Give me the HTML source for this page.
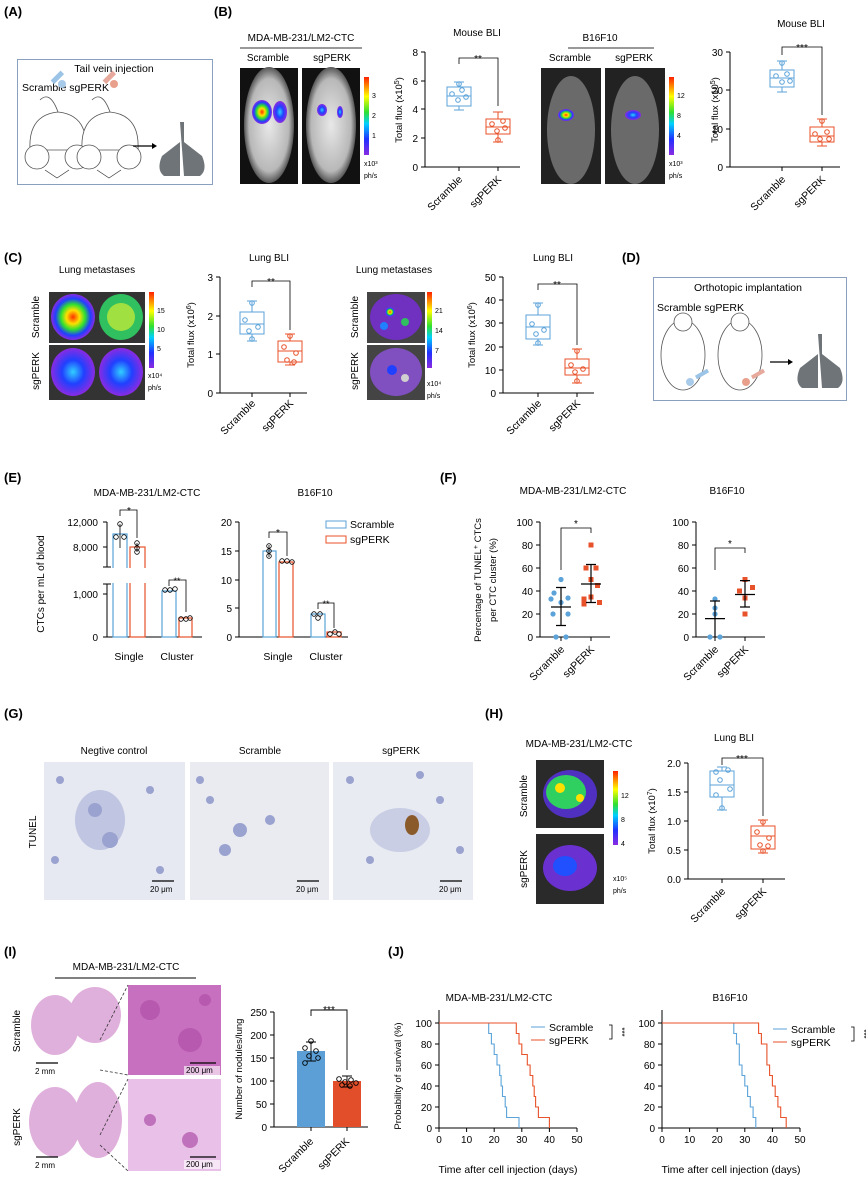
<!DOCTYPE html>
<html><head><meta charset="utf-8"><style>
html,body{margin:0;padding:0;background:#fff}
svg{display:block;font-family:"Liberation Sans",Arial,sans-serif}
</style></head><body>
<svg width="866" height="1187" viewBox="0 0 866 1187" xmlns="http://www.w3.org/2000/svg">
<defs>
<linearGradient id="cb" x1="0" y1="1" x2="0" y2="0">
<stop offset="0" stop-color="#8a2be2"/><stop offset="0.2" stop-color="#2030ff"/><stop offset="0.4" stop-color="#00d0ff"/><stop offset="0.55" stop-color="#30e030"/><stop offset="0.75" stop-color="#ffff00"/><stop offset="1" stop-color="#ff2000"/></linearGradient>
<radialGradient id="hot"><stop offset="0" stop-color="#ff3000"/><stop offset="0.3" stop-color="#ffe000"/><stop offset="0.55" stop-color="#30e030"/><stop offset="0.8" stop-color="#2040ff"/><stop offset="1" stop-color="#8a2be2"/></radialGradient>
<radialGradient id="cool"><stop offset="0" stop-color="#30d0ff"/><stop offset="0.5" stop-color="#2040ff"/><stop offset="1" stop-color="#8a2be2"/></radialGradient>
<radialGradient id="mouse"><stop offset="0" stop-color="#e8e8e8"/><stop offset="0.8" stop-color="#b8b8b8"/><stop offset="1" stop-color="#555"/></radialGradient>
</defs>
<g font-size="10" fill="#000">
<g font-size="13" font-weight="bold">
<text x="4" y="16">(A)</text><text x="214" y="16">(B)</text><text x="4" y="262">(C)</text><text x="622" y="262">(D)</text>
<text x="4" y="482">(E)</text><text x="440" y="482">(F)</text><text x="4" y="718">(G)</text><text x="485" y="718">(H)</text>
<text x="4" y="956">(I)</text><text x="388" y="956">(J)</text></g>

<!-- A -->
<rect x="17.5" y="59.5" width="195" height="125" fill="none" stroke="#8aa0bf" stroke-width="1"/>
<text x="114" y="72" text-anchor="middle" font-size="10.5">Tail vein injection</text>
<text x="22" y="91" font-size="10.5">Scramble sgPERK</text>
<g fill="#fff" stroke="#555" stroke-width="0.8">
<path d="M30 150 Q28 115 58 112 Q88 115 86 150 Z"/><path d="M82 150 Q80 115 110 112 Q140 115 138 150 Z"/>
<circle cx="37" cy="157" r="12"/><circle cx="77" cy="157" r="12"/><circle cx="89" cy="157" r="12"/><circle cx="129" cy="157" r="12"/>
<path d="M58 112 Q50 90 40 100 M110 112 Q102 90 92 100" fill="none"/></g>
<path d="M45 170 l12 8 l12 -8 M97 170 l12 8 l12 -8" stroke="#333" fill="none" stroke-width="0.7"/>
<rect x="50" y="75" width="14" height="5" fill="#9cc4e6" transform="rotate(-45 57 77)"/><circle cx="62" cy="84" r="4" fill="#a9cbea"/>
<rect x="102" y="75" width="14" height="5" fill="#e6a99c" transform="rotate(-45 109 77)"/><circle cx="114" cy="84" r="4" fill="#e8a08c"/>
<path d="M133 146 H152" stroke="#000" stroke-width="1.2"/><path d="M152 143 l5 3 l-5 3z"/>
<path d="M180 122 h4 v20 l18 14 q6 14 -2 20 h-16 z M180 142 l-18 14 q-6 14 2 20 h16 z" fill="#6e7478"/>

<!-- B images -->
<text x="301" y="41" text-anchor="middle">MDA-MB-231/LM2-CTC</text>
<line x1="240" y1="48" x2="362" y2="48" stroke="#333"/>
<text x="268" y="61" text-anchor="middle">Scramble</text><text x="332" y="61" text-anchor="middle">sgPERK</text>
<rect x="240" y="68" width="58" height="116" fill="#111"/><rect x="302" y="68" width="58" height="116" fill="#111"/>
<ellipse cx="269" cy="125" rx="25" ry="58" fill="url(#mouse)"/><ellipse cx="331" cy="125" rx="25" ry="58" fill="url(#mouse)"/>
<ellipse cx="262" cy="112" rx="10" ry="12" fill="url(#hot)"/><ellipse cx="280" cy="112" rx="7" ry="11" fill="url(#cool)"/>
<ellipse cx="322" cy="110" rx="5" ry="6" fill="url(#cool)"/><ellipse cx="340" cy="112" rx="3" ry="6" fill="url(#cool)"/>
<rect x="364" y="77" width="5" height="78" fill="url(#cb)"/>
<g font-size="7"><text x="372" y="98">3</text><text x="372" y="118">2</text><text x="372" y="138">1</text><text x="364" y="166">x10³</text><text x="364" y="178">ph/s</text></g>

<text x="600" y="41" text-anchor="middle">B16F10</text>
<line x1="568" y1="48" x2="654" y2="48" stroke="#333"/>
<text x="570" y="61" text-anchor="middle">Scramble</text><text x="634" y="61" text-anchor="middle">sgPERK</text>
<rect x="541" y="68" width="60" height="116" fill="#222"/><rect x="605" y="68" width="60" height="116" fill="#222"/>
<ellipse cx="571" cy="130" rx="24" ry="54" fill="#6a6a6a"/><ellipse cx="635" cy="130" rx="24" ry="54" fill="#6a6a6a"/>
<ellipse cx="566" cy="115" rx="8" ry="6" fill="url(#hot)"/><ellipse cx="633" cy="115" rx="8" ry="5" fill="url(#cool)"/>
<rect x="669" y="77" width="5" height="78" fill="url(#cb)"/>
<g font-size="7"><text x="677" y="98">12</text><text x="677" y="118">8</text><text x="677" y="138">4</text><text x="669" y="166">x10³</text><text x="669" y="178">ph/s</text></g>

<!-- B plot1 -->
<text x="477" y="36" text-anchor="middle">Mouse BLI</text>
<g stroke="#000" stroke-width="1" fill="none"><path d="M425 52 V167 H520"/><path d="M421 52 h4 M421 81 h4 M421 109 h4 M421 138 h4 M421 167 h4 M459 167 v4 M498 167 v4"/></g>
<g text-anchor="end"><text x="418" y="56">8</text><text x="418" y="85">6</text><text x="418" y="113">4</text><text x="418" y="142">2</text><text x="418" y="171">0</text></g>
<text transform="translate(402 110) rotate(-90)" text-anchor="middle" font-size="9.5">Total flux (x10<tspan dy="-3" font-size="7">5</tspan><tspan dy="3">)</tspan></text>
<g stroke="#5ba3d9" fill="none"><path d="M459 82 V110 M454 82 h10 M454 110 h10"/><rect x="447" y="87" width="24" height="19" fill="#fff"/><path d="M447 96 h24"/><circle cx="452" cy="94" r="2.3"/><circle cx="462" cy="90" r="2.3"/><circle cx="458" cy="100" r="2.3"/><circle cx="466" cy="97" r="2.3"/><circle cx="459" cy="84" r="2.3"/></g>
<g stroke="#e8522a" fill="none"><path d="M498 112 V142 M493 112 h10 M493 142 h10"/><rect x="486" y="119" width="24" height="15" fill="#fff"/><path d="M486 127 h24"/><circle cx="492" cy="124" r="2.3"/><circle cx="503" cy="121" r="2.3"/><circle cx="497" cy="131" r="2.3"/><circle cx="505" cy="128" r="2.3"/><circle cx="498" cy="140" r="2.3"/></g>
<path d="M459 64 V58 H498 V106" stroke="#000" fill="none" stroke-width="0.8"/><text x="478" y="62" text-anchor="middle">**</text>
<text transform="translate(463 180) rotate(-45)" text-anchor="end" font-size="10.5">Scramble</text>
<text transform="translate(502 180) rotate(-45)" text-anchor="end" font-size="10.5">sgPERK</text>

<!-- B plot2 -->
<text x="801" y="27" text-anchor="middle">Mouse BLI</text>
<g stroke="#000" fill="none"><path d="M730 52 V167 H840"/><path d="M726 52 h4 M726 90 h4 M726 129 h4 M726 167 h4 M782 167 v4 M822 167 v4"/></g>
<g text-anchor="end"><text x="723" y="56">30</text><text x="723" y="94">20</text><text x="723" y="133">10</text><text x="723" y="171">0</text></g>
<text transform="translate(718 110) rotate(-90)" text-anchor="middle" font-size="9.5">Total flux (x10<tspan dy="-3" font-size="7">5</tspan><tspan dy="3">)</tspan></text>
<g stroke="#5ba3d9" fill="none"><path d="M782 61 V92 M777 61 h10 M777 92 h10"/><rect x="770" y="70" width="24" height="17" fill="#fff"/><path d="M770 78 h24"/><circle cx="776" cy="76" r="2.3"/><circle cx="787" cy="74" r="2.3"/><circle cx="782" cy="82" r="2.3"/><circle cx="790" cy="81" r="2.3"/><circle cx="782" cy="63" r="2.3"/></g>
<g stroke="#e8522a" fill="none"><path d="M822 119 V146 M817 119 h10 M817 146 h10"/><rect x="810" y="127" width="24" height="15" fill="#fff"/><path d="M810 136 h24"/><circle cx="815" cy="134" r="2.3"/><circle cx="827" cy="132" r="2.3"/><circle cx="820" cy="139" r="2.3"/><circle cx="829" cy="139" r="2.3"/><circle cx="822" cy="121" r="2.3"/></g>
<path d="M782 55 V47 H822 V115" stroke="#000" fill="none" stroke-width="0.8"/><text x="802" y="51" text-anchor="middle">***</text>
<text transform="translate(786 180) rotate(-45)" text-anchor="end" font-size="10.5">Scramble</text>
<text transform="translate(826 180) rotate(-45)" text-anchor="end" font-size="10.5">sgPERK</text>

<!-- C images -->
<text x="97" y="273" text-anchor="middle">Lung metastases</text>
<rect x="49" y="292" width="96" height="51" fill="#333"/><rect x="49" y="345" width="96" height="55" fill="#333"/>
<ellipse cx="73" cy="317" rx="22" ry="23" fill="url(#hot)"/><ellipse cx="121" cy="317" rx="22" ry="23" fill="#30c060"/><ellipse cx="121" cy="317" rx="14" ry="14" fill="#a0e040"/>
<ellipse cx="73" cy="372" rx="22" ry="24" fill="url(#cool)"/><ellipse cx="121" cy="372" rx="22" ry="24" fill="url(#cool)"/>
<text transform="translate(39 317) rotate(-90)" text-anchor="middle">Scramble</text><text transform="translate(39 371) rotate(-90)" text-anchor="middle">sgPERK</text>
<rect x="149" y="292" width="5" height="76" fill="url(#cb)"/>
<g font-size="7"><text x="157" y="313">15</text><text x="157" y="332">10</text><text x="157" y="351">5</text><text x="148" y="378">x10⁴</text><text x="148" y="390">ph/s</text></g>

<text x="394" y="273" text-anchor="middle">Lung metastases</text>
<rect x="367" y="292" width="58" height="51" fill="#444"/><rect x="367" y="345" width="58" height="55" fill="#444"/>
<ellipse cx="396" cy="317" rx="26" ry="23" fill="#7030c0"/><circle cx="390" cy="312" r="5" fill="url(#hot)"/><circle cx="405" cy="322" r="4" fill="#30c060"/><circle cx="384" cy="326" r="4" fill="#2080ff"/>
<ellipse cx="396" cy="372" rx="26" ry="24" fill="#8050c0"/><circle cx="392" cy="370" r="5" fill="#2040ff"/><circle cx="405" cy="378" r="4" fill="#d0d0d0"/>
<text transform="translate(358 317) rotate(-90)" text-anchor="middle">Scramble</text><text transform="translate(358 371) rotate(-90)" text-anchor="middle">sgPERK</text>
<rect x="427" y="292" width="5" height="76" fill="url(#cb)"/>
<g font-size="7"><text x="435" y="313">21</text><text x="435" y="333">14</text><text x="435" y="353">7</text><text x="427" y="386">x10⁴</text><text x="427" y="398">ph/s</text></g>

<!-- C plot1 -->
<text x="269" y="261" text-anchor="middle">Lung BLI</text>
<g stroke="#000" fill="none"><path d="M220 277 V393 H307"/><path d="M216 277 h4 M216 316 h4 M216 354 h4 M216 393 h4 M252 393 v4 M290 393 v4"/></g>
<g text-anchor="end"><text x="213" y="281">3</text><text x="213" y="320">2</text><text x="213" y="358">1</text><text x="213" y="397">0</text></g>
<text transform="translate(194 335) rotate(-90)" text-anchor="middle" font-size="9.5">Total flux (x10<tspan dy="-3" font-size="7">6</tspan><tspan dy="3">)</tspan></text>
<g stroke="#5ba3d9" fill="none"><path d="M252 301 V341 M247 301 h10 M247 341 h10"/><rect x="240" y="312" width="24" height="22" fill="#fff"/><path d="M240 324 h24"/><circle cx="252" cy="303" r="2.3"/><circle cx="245" cy="320" r="2.3"/><circle cx="258" cy="327" r="2.3"/><circle cx="249" cy="331" r="2.3"/><circle cx="252" cy="339" r="2.3"/></g>
<g stroke="#e8522a" fill="none"><path d="M290 334 V365 M285 334 h10 M285 365 h10"/><rect x="278" y="341" width="24" height="21" fill="#fff"/><path d="M278 351 h24"/><circle cx="290" cy="336" r="2.3"/><circle cx="284" cy="347" r="2.3"/><circle cx="296" cy="353" r="2.3"/><circle cx="287" cy="360" r="2.3"/><circle cx="294" cy="362" r="2.3"/></g>
<path d="M252 287 V281 H290 V330" stroke="#000" fill="none" stroke-width="0.8"/><text x="271" y="285" text-anchor="middle">**</text>
<text transform="translate(256 404) rotate(-45)" text-anchor="end" font-size="10.5">Scramble</text>
<text transform="translate(294 404) rotate(-45)" text-anchor="end" font-size="10.5">sgPERK</text>

<!-- C plot2 -->
<text x="553" y="261" text-anchor="middle">Lung BLI</text>
<g stroke="#000" fill="none"><path d="M503 277 V393 H594"/><path d="M499 277 h4 M499 300 h4 M499 323 h4 M499 347 h4 M499 370 h4 M499 393 h4 M538 393 v4 M577 393 v4"/></g>
<g text-anchor="end"><text x="496" y="281">50</text><text x="496" y="304">40</text><text x="496" y="327">30</text><text x="496" y="351">20</text><text x="496" y="374">10</text><text x="496" y="397">0</text></g>
<text transform="translate(475 335) rotate(-90)" text-anchor="middle" font-size="9.5">Total flux (x10<tspan dy="-3" font-size="7">6</tspan><tspan dy="3">)</tspan></text>
<g stroke="#5ba3d9" fill="none"><path d="M538 303 V345 M533 303 h10 M533 345 h10"/><rect x="526" y="315" width="24" height="24" fill="#fff"/><path d="M526 327 h24"/><circle cx="538" cy="305" r="2.3"/><circle cx="532" cy="324" r="2.3"/><circle cx="544" cy="330" r="2.3"/><circle cx="536" cy="334" r="2.3"/><circle cx="538" cy="343" r="2.3"/></g>
<g stroke="#e8522a" fill="none"><path d="M577 349 V383 M572 349 h10 M572 383 h10"/><rect x="565" y="359" width="24" height="16" fill="#fff"/><path d="M565 368 h24"/><circle cx="577" cy="351" r="2.3"/><circle cx="571" cy="365" r="2.3"/><circle cx="583" cy="369" r="2.3"/><circle cx="575" cy="372" r="2.3"/><circle cx="577" cy="381" r="2.3"/></g>
<path d="M538 290 V284 H577 V345" stroke="#000" fill="none" stroke-width="0.8"/><text x="557" y="288" text-anchor="middle">**</text>
<text transform="translate(542 404) rotate(-45)" text-anchor="end" font-size="10.5">Scramble</text>
<text transform="translate(581 404) rotate(-45)" text-anchor="end" font-size="10.5">sgPERK</text>

<!-- D -->
<rect x="653.5" y="277.5" width="193" height="123" fill="none" stroke="#8aa0bf"/>
<text x="748" y="291" text-anchor="middle" font-size="10.5">Orthotopic implantation</text>
<text x="657" y="311" font-size="10.5">Scramble  sgPERK</text>
<g fill="#fff" stroke="#555" stroke-width="0.8"><ellipse cx="683" cy="355" rx="22" ry="35"/><ellipse cx="740" cy="355" rx="22" ry="35"/><circle cx="683" cy="322" r="9"/><circle cx="740" cy="322" r="9"/></g>
<circle cx="690" cy="382" r="4" fill="#a9cbea"/><circle cx="746" cy="382" r="4" fill="#e8a08c"/>
<rect x="695" y="372" width="14" height="4" fill="#9cc4e6" transform="rotate(-30 702 374)"/><rect x="751" y="372" width="14" height="4" fill="#e6a99c" transform="rotate(-30 758 374)"/>
<path d="M770 362 H788" stroke="#000" stroke-width="1.2"/><path d="M788 359 l5 3 l-5 3z"/>
<path d="M818 334 h4 v20 l18 14 q6 14 -2 20 h-16 z M818 354 l-18 14 q-6 14 2 20 h16 z" fill="#6e7478"/>

<!-- E -->
<text x="147" y="496" text-anchor="middle">MDA-MB-231/LM2-CTC</text><text x="315" y="496" text-anchor="middle">B16F10</text>
<text transform="translate(44 584) rotate(-90)" text-anchor="middle">CTCs per mL of blood</text>
<g stroke="#000" fill="none"><path d="M107 522 V567 M107 584 V637 H202 M103 567 h8 M103 584 h8"/><path d="M103 522 h4 M103 547 h4 M103 594 h4 M103 637 h4"/></g>
<g text-anchor="end"><text x="98" y="526">12,000</text><text x="98" y="551">8,000</text><text x="98" y="598">1,000</text><text x="98" y="641">0</text></g>
<g fill="none" stroke-width="1.2"><rect x="113" y="534" width="14" height="103" stroke="#5ba3d9"/><rect x="130" y="547" width="15" height="90" stroke="#e8522a"/><rect x="162" y="591" width="14" height="46" stroke="#5ba3d9"/><rect x="179" y="618" width="13" height="19" stroke="#e8522a"/></g>
<rect x="107" y="568" width="100" height="15" fill="#fff"/>
<g stroke="#000" fill="none" stroke-width="0.8"><path d="M120 524 V548 M137 543 V552"/><circle cx="120" cy="524" r="2.3"/><circle cx="116" cy="537" r="2.3"/><circle cx="124" cy="537" r="2.3"/><circle cx="137" cy="543" r="2.3"/><circle cx="137" cy="548" r="2.3"/><circle cx="137" cy="552" r="2.3"/><circle cx="165" cy="590" r="2.3"/><circle cx="170" cy="590" r="2.3"/><circle cx="175" cy="589" r="2.3"/><circle cx="181" cy="619" r="2.3"/><circle cx="186" cy="619" r="2.3"/><circle cx="190" cy="618" r="2.3"/>
<path d="M120 516 V510 H137 V538 M169 586 V580 H186 V612"/></g>
<text x="129" y="514" text-anchor="middle">*</text><text x="177" y="584" text-anchor="middle" font-size="9">**</text>
<text x="129" y="660" text-anchor="middle" font-size="10.5">Single</text><text x="177" y="660" text-anchor="middle" font-size="10.5">Cluster</text>

<g stroke="#000" fill="none"><path d="M239 522 V637 H348"/><path d="M235 522 h4 M235 551 h4 M235 580 h4 M235 608 h4 M235 637 h4"/></g>
<g text-anchor="end"><text x="232" y="526">20</text><text x="232" y="555">15</text><text x="232" y="584">10</text><text x="232" y="612">5</text><text x="232" y="641">0</text></g>
<g fill="none" stroke-width="1.2"><rect x="263" y="551" width="13" height="86" stroke="#5ba3d9"/><rect x="279" y="562" width="14" height="75" stroke="#e8522a"/><rect x="311" y="614" width="14" height="23" stroke="#5ba3d9"/><rect x="327" y="632" width="14" height="5" stroke="#e8522a"/></g>
<g stroke="#000" fill="none" stroke-width="0.8"><path d="M269 545 V557"/><circle cx="269" cy="546" r="2.3"/><circle cx="269" cy="551" r="2.3"/><circle cx="269" cy="556" r="2.3"/><circle cx="282" cy="561" r="2.3"/><circle cx="287" cy="561" r="2.3"/><circle cx="292" cy="562" r="2.3"/><circle cx="314" cy="614" r="2.3"/><circle cx="320" cy="614" r="2.3"/><circle cx="318" cy="618" r="2.3"/><circle cx="330" cy="634" r="2.3"/><circle cx="335" cy="632" r="2.3"/><circle cx="339" cy="634" r="2.3"/>
<path d="M269 538 V532 H287 V556 M318 609 V603 H334 V628"/></g>
<text x="278" y="536" text-anchor="middle">*</text><text x="326" y="607" text-anchor="middle" font-size="9">**</text>
<text x="278" y="660" text-anchor="middle" font-size="10.5">Single</text><text x="326" y="660" text-anchor="middle" font-size="10.5">Cluster</text>
<rect x="326" y="521" width="20" height="7" fill="none" stroke="#5ba3d9"/><text x="350" y="528" font-size="10.5">Scramble</text>
<rect x="326" y="536" width="20" height="7" fill="none" stroke="#e8522a"/><text x="350" y="543" font-size="10.5">sgPERK</text>

<!-- F -->
<text x="573" y="494" text-anchor="middle">MDA-MB-231/LM2-CTC</text><text x="727" y="494" text-anchor="middle">B16F10</text>
<text transform="translate(481 580) rotate(-90)" text-anchor="middle" font-size="9.5">Percentage of TUNEL<tspan dy="-3" font-size="7">+</tspan><tspan dy="3"> CTCs</tspan></text>
<text transform="translate(496 580) rotate(-90)" text-anchor="middle" font-size="9.5">per CTC cluster (%)</text>
<g stroke="#000" fill="none"><path d="M540 522 V637 H610"/><path d="M536 522 h4 M536 545 h4 M536 568 h4 M536 591 h4 M536 614 h4 M536 637 h4 M561 637 v4 M591 637 v4"/>
<path d="M696 522 V637 H765"/><path d="M692 522 h4 M692 545 h4 M692 568 h4 M692 591 h4 M692 614 h4 M692 637 h4 M715 637 v4 M745 637 v4"/></g>
<g text-anchor="end"><text x="533" y="526">100</text><text x="533" y="549">80</text><text x="533" y="572">60</text><text x="533" y="595">40</text><text x="533" y="618">20</text><text x="533" y="641">0</text>
<text x="689" y="526">100</text><text x="689" y="549">80</text><text x="689" y="572">60</text><text x="689" y="595">40</text><text x="689" y="618">20</text><text x="689" y="641">0</text></g>
<g fill="#5ba3d9"><circle cx="561" cy="579.5" r="2.6"/><circle cx="554" cy="593" r="2.6"/><circle cx="568" cy="598" r="2.6"/><circle cx="551" cy="599" r="2.6"/><circle cx="561" cy="602.5" r="2.6"/><circle cx="553" cy="614" r="2.6"/><circle cx="568" cy="614" r="2.6"/><circle cx="556" cy="637" r="2.6"/><circle cx="566" cy="637" r="2.6"/>
<circle cx="715" cy="599" r="2.6"/><circle cx="715" cy="608" r="2.6"/><circle cx="715" cy="614" r="2.6"/><circle cx="710" cy="637" r="2.6"/><circle cx="720" cy="637" r="2.6"/></g>
<g fill="#e8522a"><rect x="588.5" y="542.5" width="5" height="5"/><rect x="583.5" y="565.5" width="5" height="5"/><rect x="593.5" y="565.5" width="5" height="5"/><rect x="588.5" y="577" width="5" height="5"/><rect x="595" y="583" width="5" height="5"/><rect x="588.5" y="594.5" width="5" height="5"/><rect x="581.5" y="596.5" width="5" height="5"/><rect x="597" y="600" width="5" height="5"/><rect x="581.5" y="601.5" width="5" height="5"/>
<rect x="742.5" y="577" width="5" height="5"/><rect x="750" y="585" width="5" height="5"/><rect x="737" y="588.5" width="5" height="5"/><rect x="742.5" y="595.5" width="5" height="5"/><rect x="742.5" y="611.5" width="5" height="5"/></g>
<g stroke="#000" stroke-width="1.2" fill="none"><path d="M561 587.5 V625.5 M556 587.5 h10 M556 625.5 h10 M551 607 h20"/><path d="M591 564.5 V602.5 M586 564.5 h10 M586 602.5 h10 M581 584 h20"/>
<path d="M715 601 V637 M710 601 h10 M705 618.6 h20"/><path d="M745 580.6 V607 M740 580.6 h10 M740 607 h10 M735 594.5 h20"/></g>
<path d="M561 570 V528 H591 V533 M715 570 V548 H745 V553" stroke="#000" fill="none" stroke-width="0.8"/>
<text x="576" y="527" text-anchor="middle">*</text><text x="730" y="547" text-anchor="middle">*</text>
<text transform="translate(565 650) rotate(-45)" text-anchor="end" font-size="10.5">Scramble</text>
<text transform="translate(595 650) rotate(-45)" text-anchor="end" font-size="10.5">sgPERK</text>
<text transform="translate(719 650) rotate(-45)" text-anchor="end" font-size="10.5">Scramble</text>
<text transform="translate(749 650) rotate(-45)" text-anchor="end" font-size="10.5">sgPERK</text>

<!-- G -->
<text x="114" y="754" text-anchor="middle">Negtive control</text><text x="260" y="754" text-anchor="middle">Scramble</text><text x="401" y="754" text-anchor="middle">sgPERK</text>
<text transform="translate(36 832) rotate(-90)" text-anchor="middle">TUNEL</text>
<rect x="44" y="762" width="141" height="138" fill="#e6e9f2"/><rect x="190" y="762" width="139" height="138" fill="#e9ebf1"/><rect x="333" y="762" width="140" height="138" fill="#e8ebf2"/>
<g fill="#9aa2cf"><ellipse cx="100" cy="820" rx="25" ry="30" opacity="0.5"/><circle cx="95" cy="810" r="7"/><circle cx="110" cy="840" r="8"/><circle cx="60" cy="780" r="4"/><circle cx="55" cy="860" r="4"/><circle cx="150" cy="790" r="4"/><circle cx="160" cy="870" r="4"/>
<circle cx="240" cy="830" r="7"/><circle cx="225" cy="850" r="6"/><circle cx="200" cy="780" r="4"/><circle cx="210" cy="800" r="4"/><circle cx="270" cy="820" r="5"/>
<ellipse cx="400" cy="830" rx="30" ry="22" opacity="0.4"/><circle cx="350" cy="780" r="4"/><circle cx="370" cy="860" r="4"/><circle cx="440" cy="800" r="4"/><circle cx="460" cy="850" r="4"/><circle cx="420" cy="775" r="4"/></g>
<ellipse cx="412" cy="825" rx="7" ry="10" fill="#8b5a2b"/>
<g font-size="8"><path d="M152 881 h22 M297 881 h22 M440 881 h22" stroke="#000" stroke-width="1.2"/><text x="150" y="892">20 μm</text><text x="296" y="892">20 μm</text><text x="439" y="892">20 μm</text></g>

<!-- H -->
<text x="579" y="747" text-anchor="middle">MDA-MB-231/LM2-CTC</text>
<rect x="536" y="760" width="68" height="68" fill="#2a2a2a"/><rect x="536" y="834" width="68" height="70" fill="#2a2a2a"/>
<ellipse cx="570" cy="794" rx="27" ry="24" fill="#5030c0"/><ellipse cx="566" cy="792" rx="20" ry="17" fill="#30d060"/><circle cx="560" cy="788" r="5" fill="#ffe000"/><circle cx="580" cy="798" r="4" fill="#ffe000"/>
<ellipse cx="570" cy="868" rx="27" ry="23" fill="#6a30d0"/><ellipse cx="565" cy="866" rx="12" ry="10" fill="#2050ff"/>
<text transform="translate(527 796) rotate(-90)" text-anchor="middle">Scramble</text><text transform="translate(527 869) rotate(-90)" text-anchor="middle">sgPERK</text>
<rect x="613" y="771" width="5" height="74" fill="url(#cb)"/>
<g font-size="7"><text x="621" y="798">12</text><text x="621" y="822">8</text><text x="621" y="846">4</text><text x="613" y="881">x10⁵</text><text x="613" y="893">ph/s</text></g>
<text x="734" y="741" text-anchor="middle">Lung BLI</text>
<g stroke="#000" fill="none"><path d="M688 763 V879 H785"/><path d="M684 763 h4 M684 792 h4 M684 821 h4 M684 850 h4 M684 879 h4 M722 879 v4 M763 879 v4"/></g>
<g text-anchor="end"><text x="681" y="767">2.0</text><text x="681" y="796">1.5</text><text x="681" y="825">1.0</text><text x="681" y="854">0.5</text><text x="681" y="883">0.0</text></g>
<text transform="translate(655 821) rotate(-90)" text-anchor="middle" font-size="9.5">Total flux (x10<tspan dy="-3" font-size="7">7</tspan><tspan dy="3">)</tspan></text>
<g stroke="#5ba3d9" fill="none"><path d="M722 767 V810 M717 767 h10 M717 810 h10"/><rect x="710" y="771" width="24" height="26" fill="#fff"/><path d="M710 785 h24"/><circle cx="716" cy="772" r="2.3"/><circle cx="728" cy="770" r="2.3"/><circle cx="720" cy="780" r="2.3"/><circle cx="730" cy="789" r="2.3"/><circle cx="716" cy="795" r="2.3"/><circle cx="722" cy="808" r="2.3"/></g>
<g stroke="#e8522a" fill="none"><path d="M763 820 V853 M758 820 h10 M758 853 h10"/><rect x="751" y="826" width="24" height="23" fill="#fff"/><path d="M751 836 h24"/><circle cx="763" cy="822" r="2.3"/><circle cx="757" cy="832" r="2.3"/><circle cx="769" cy="838" r="2.3"/><circle cx="760" cy="845" r="2.3"/><circle cx="768" cy="846" r="2.3"/><circle cx="763" cy="851" r="2.3"/></g>
<path d="M722 765 V758 H763 V816" stroke="#000" fill="none" stroke-width="0.8"/><text x="742" y="762" text-anchor="middle">***</text>
<text transform="translate(726 892) rotate(-45)" text-anchor="end" font-size="10.5">Scramble</text>
<text transform="translate(767 892) rotate(-45)" text-anchor="end" font-size="10.5">sgPERK</text>

<!-- I -->
<text x="126" y="970" text-anchor="middle">MDA-MB-231/LM2-CTC</text><line x1="55" y1="978" x2="196" y2="978" stroke="#000"/>
<text transform="translate(20 1031) rotate(-90)" text-anchor="middle">Scramble</text><text transform="translate(20 1127) rotate(-90)" text-anchor="middle">sgPERK</text>
<g fill="#e0b0dc"><ellipse cx="55" cy="1025" rx="24" ry="30"/><ellipse cx="95" cy="1015" rx="26" ry="28"/><ellipse cx="55" cy="1122" rx="26" ry="35"/><ellipse cx="98" cy="1120" rx="24" ry="38"/></g>
<rect x="128" y="985" width="93" height="90" fill="#c870c0"/><rect x="128" y="1079" width="93" height="92" fill="#e8c0e8"/>
<g fill="#b050a8" opacity="0.7"><circle cx="150" cy="1010" r="10"/><circle cx="190" cy="1040" r="12"/><circle cx="205" cy="1000" r="6"/><circle cx="150" cy="1120" r="6"/><circle cx="190" cy="1140" r="8"/></g>
<path d="M100 1040 L128 985 M100 1070 L128 1075 M100 1135 L128 1079 M100 1145 L128 1171" stroke="#333" stroke-dasharray="3 2" fill="none" stroke-width="0.8"/>
<g font-size="8"><path d="M36 1063 h22 M36 1157 h22 M190 1063 h26 M190 1157 h26" stroke="#000" stroke-width="1.2"/><text x="35" y="1074">2 mm</text><text x="35" y="1168">2 mm</text>
<rect x="184" y="1066" width="36" height="9" fill="#fff" opacity="0.6"/><rect x="184" y="1160" width="36" height="9" fill="#fff" opacity="0.6"/><text x="186" y="1073">200 μm</text><text x="186" y="1167">200 μm</text></g>
<g stroke="#000" fill="none"><path d="M274 1012 V1127 H368"/><path d="M270 1012 h4 M270 1035 h4 M270 1058 h4 M270 1081 h4 M270 1104 h4 M270 1127 h4 M311 1127 v4 M347 1127 v4"/></g>
<g text-anchor="end"><text x="267" y="1016">250</text><text x="267" y="1039">200</text><text x="267" y="1062">150</text><text x="267" y="1085">100</text><text x="267" y="1108">50</text><text x="267" y="1131">0</text></g>
<text transform="translate(242 1069) rotate(-90)" text-anchor="middle" font-size="9.5">Number of nodules/lung</text>
<rect x="297" y="1051" width="28" height="76" fill="#5b9fd6"/><rect x="333" y="1081" width="28" height="46" fill="#e24e2a"/>
<g stroke="#000" fill="none" stroke-width="0.9"><path d="M311 1042 V1061 M306 1042 h10 M306 1061 h10 M347 1076 V1087 M342 1076 h10 M342 1087 h10"/><circle cx="311" cy="1041" r="2.3"/><circle cx="305" cy="1048" r="2.3"/><circle cx="316" cy="1051" r="2.3"/><circle cx="309" cy="1056" r="2.3"/><circle cx="318" cy="1058" r="2.3"/><circle cx="305" cy="1063" r="2.3"/><circle cx="339" cy="1079" r="2.3"/><circle cx="345" cy="1082" r="2.3"/><circle cx="351" cy="1080" r="2.3"/><circle cx="356" cy="1083" r="2.3"/><circle cx="342" cy="1085" r="2.3"/><circle cx="350" cy="1086" r="2.3"/>
<path d="M311 1016 V1010 H347 V1070"/></g>
<text x="329" y="1013" text-anchor="middle">***</text>
<text transform="translate(314 1142) rotate(-45)" text-anchor="end" font-size="10.5">Scramble</text>
<text transform="translate(350 1142) rotate(-45)" text-anchor="end" font-size="10.5">sgPERK</text>

<!-- J -->
<text x="499" y="1001" text-anchor="middle">MDA-MB-231/LM2-CTC</text><text x="730" y="1001" text-anchor="middle">B16F10</text>
<text transform="translate(401 1076) rotate(-90)" text-anchor="middle" font-size="9.5">Probability of survival (%)</text>
<g stroke="#000" fill="none"><path d="M439 1010 V1128 H577"/><path d="M435 1023 h4 M435 1044 h4 M435 1065 h4 M435 1086 h4 M435 1107 h4 M435 1128 h4 M439 1128 v4 M466.6 1128 v4 M494.2 1128 v4 M521.8 1128 v4 M549.4 1128 v4 M577 1128 v4"/>
<path d="M662 1010 V1128 H800"/><path d="M658 1023 h4 M658 1044 h4 M658 1065 h4 M658 1086 h4 M658 1107 h4 M658 1128 h4 M662 1128 v4 M689.6 1128 v4 M717.2 1128 v4 M744.8 1128 v4 M772.4 1128 v4 M800 1128 v4"/></g>
<g text-anchor="end"><text x="432" y="1027">100</text><text x="432" y="1048">80</text><text x="432" y="1069">60</text><text x="432" y="1090">40</text><text x="432" y="1111">20</text><text x="432" y="1132">0</text>
<text x="655" y="1027">100</text><text x="655" y="1048">80</text><text x="655" y="1069">60</text><text x="655" y="1090">40</text><text x="655" y="1111">20</text><text x="655" y="1132">0</text></g>
<g text-anchor="middle"><text x="439" y="1143">0</text><text x="466.6" y="1143">10</text><text x="494.2" y="1143">20</text><text x="521.8" y="1143">30</text><text x="549.4" y="1143">40</text><text x="577" y="1143">50</text>
<text x="662" y="1143">0</text><text x="689.6" y="1143">10</text><text x="717.2" y="1143">20</text><text x="744.8" y="1143">30</text><text x="772.4" y="1143">40</text><text x="800" y="1143">50</text></g>
<text x="508" y="1173" text-anchor="middle" font-size="10.5">Time after cell injection (days)</text><text x="731" y="1173" text-anchor="middle" font-size="10.5">Time after cell injection (days)</text>
<g fill="none" stroke-width="1.1">
<path stroke="#5ba3d9" d="M439 1023 H488.7 V1033.5 H491.4 V1044 H494.2 V1054.5 H497 V1065 H499.7 V1075.5 H501.1 V1086 H502.5 V1096.5 H505.2 V1107 H506.6 V1117.5 H519 V1128"/>
<path stroke="#e8522a" d="M439 1023 H516.3 V1033.5 H519 V1044 H521.8 V1054.5 H527.3 V1065 H530.1 V1075.5 H532.8 V1086 H534.2 V1096.5 H535.6 V1107 H538.4 V1117.5 H549.4 V1128"/>
<path stroke="#5ba3d9" d="M662 1023 H733.8 V1033.5 H736.5 V1044 H739.3 V1065 H742 V1075.5 H744.8 V1086 H747.6 V1096.5 H750.3 V1107 H753.1 V1117.5 H755.8 V1128"/>
<path stroke="#e8522a" d="M662 1023 H758.6 V1033.5 H761.4 V1044 H766.9 V1065 H769.6 V1075.5 H772.4 V1086 H775.2 V1096.5 H777.9 V1107 H780.7 V1117.5 H786.2 V1128"/>
<path stroke="#5ba3d9" d="M531 1027 h14 M773 1029 h14"/><path stroke="#e8522a" d="M531 1040 h14 M773 1042 h14"/></g>
<g font-size="10.5"><text x="549" y="1031">Scramble</text><text x="549" y="1044">sgPERK</text><text x="791" y="1033">Scramble</text><text x="791" y="1046">sgPERK</text></g>
<path d="M609 1025 h3 v14 h-3 M851 1027 h3 v14 h-3" stroke="#000" fill="none" stroke-width="0.8"/>
<text transform="translate(619 1032) rotate(90)" text-anchor="middle" font-size="8">***</text>
<text transform="translate(861 1034) rotate(90)" text-anchor="middle" font-size="8">***</text>
</g>
</svg>
</body></html>
